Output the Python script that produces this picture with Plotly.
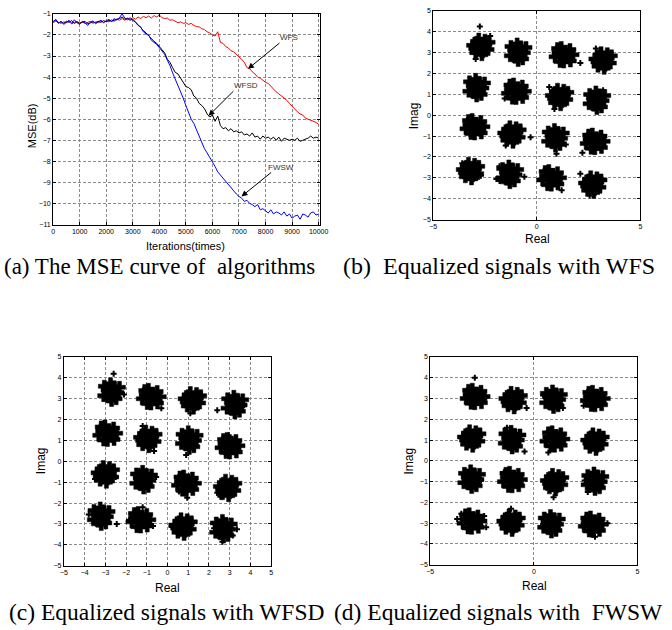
import plotly.graph_objects as go

W, H = 672, 630

# ---------------- data ----------------
iterations = list(range(0, 10001, 100))

mse_wfs = [
    -1.42, -1.35, -1.40, -1.45, -1.38, -1.42, -1.35, -1.48, -1.40, -1.36,
    -1.44, -1.38, -1.46, -1.40, -1.35, -1.45, -1.38, -1.42, -1.34, -1.40,
    -1.32, -1.38, -1.28, -1.35, -1.25, -1.30, -1.22, -1.30, -1.20, -1.26,
    -1.18, -1.25, -1.15, -1.22, -1.12, -1.18, -1.10, -1.20, -1.08, -1.15,
    -1.05, -1.18, -1.22, -1.20, -1.30, -1.28, -1.35, -1.42, -1.38, -1.45,
    -1.42, -1.50, -1.45, -1.55, -1.60, -1.62, -1.70, -1.75, -1.85, -1.90,
    -2.00, -2.05, -1.85, -2.35, -2.40, -2.55, -2.62, -2.75, -2.80, -2.95,
    -3.05, -3.15, -3.30, -3.55, -3.60, -3.75, -3.85, -4.00, -4.05, -4.15,
    -4.25, -4.30, -4.45, -4.55, -4.70, -4.80, -4.90, -5.00, -5.10, -5.25,
    -5.40, -5.50, -5.65, -5.75, -5.80, -5.95, -6.00, -6.05, -6.10, -6.15,
    -6.25]

mse_wfsd = [
    -1.35, -1.30, -1.42, -1.38, -1.45, -1.35, -1.40, -1.32, -1.45, -1.38,
    -1.45, -1.40, -1.35, -1.48, -1.42, -1.38, -1.42, -1.35, -1.40, -1.32,
    -1.38, -1.30, -1.35, -1.28, -1.25, -1.22, -1.15, -1.25, -1.22, -1.30,
    -1.25, -1.38, -1.50, -1.65, -1.80, -1.90, -2.05, -2.20, -2.30, -2.40,
    -2.55, -2.70, -2.85, -3.15, -3.30, -3.55, -3.78, -3.85, -4.05, -4.20,
    -4.45, -4.50, -4.60, -4.90, -5.00, -5.25, -5.35, -5.50, -5.75, -5.90,
    -5.80, -6.10, -5.85, -6.30, -6.45, -6.40, -6.55, -6.45, -6.60, -6.55,
    -6.65, -6.60, -6.75, -6.70, -6.80, -6.65, -6.85, -6.80, -6.95, -6.80,
    -6.90, -6.85, -6.95, -6.85, -7.00, -6.85, -7.05, -6.90, -6.95, -7.00,
    -6.95, -7.00, -6.90, -7.05, -7.00, -6.95, -6.90, -6.80, -6.90, -6.85,
    -6.90]

mse_fwsw = [
    -1.40, -1.25, -1.45, -1.35, -1.50, -1.38, -1.30, -1.45, -1.28, -1.42,
    -1.50, -1.35, -1.42, -1.55, -1.40, -1.33, -1.47, -1.38, -1.30, -1.42,
    -1.35, -1.25, -1.38, -1.22, -1.30, -1.18, -1.00, -1.20, -1.28, -1.18,
    -1.30, -1.40, -1.55, -1.62, -1.85, -1.95, -2.00, -2.25, -2.35, -2.45,
    -2.60, -2.75, -2.92, -3.20, -3.45, -3.80, -4.10, -4.35, -4.70, -5.00,
    -5.35, -5.65, -6.00, -6.20, -6.50, -6.75, -7.05, -7.40, -7.60, -7.85,
    -8.03, -8.25, -8.50, -8.65, -8.80, -8.95, -9.10, -9.30, -9.45, -9.55,
    -9.67, -9.75, -9.90, -9.85, -10.00, -10.05, -10.15, -10.05, -10.30, -10.25,
    -10.35, -10.45, -10.30, -10.50, -10.40, -10.45, -10.55, -10.40, -10.60, -10.50,
    -10.70, -10.60, -10.55, -10.75, -10.50, -10.55, -10.65, -10.45, -10.40, -10.55,
    -10.50]

mse_ticks_x = [0, 1000, 2000, 3000, 4000, 5000, 6000, 7000, 8000, 9000, 10000]
mse_ticklabels_x = ["0", "1000", "2000", "3000", "4000", "5000", "6000", "7000", "8000", "9000", "10000"]
mse_ticks_y = [-1, -2, -3, -4, -5, -6, -7, -8, -9, -10, -11]

# equalized constellation samples (real, imag): dense cores and sparse outliers
wfs_points = [
    (-2.70,3.30),(-2.45,3.40),(-2.90,3.50),(-2.60,3.05),(-3.00,3.20),(-2.35,3.15),(-2.80,3.65),(-2.50,3.60),(-2.95,3.00),(-2.65,2.90),(-2.30,3.50),(-3.10,3.35),
    (-0.85,3.05),(-1.12,3.12),(-0.60,3.00),(-0.78,3.28),(-1.05,2.78),(-0.68,2.70),(-1.25,3.30),(-1.28,2.85),(-0.90,2.62),(-0.52,3.25),(-0.95,3.42),(-0.75,2.88),
    (1.25,2.85),(1.50,2.77),(1.02,3.00),(1.38,3.07),(1.60,3.15),(1.12,2.57),(1.62,2.60),(0.88,2.80),(1.30,2.55),(1.18,3.25),(1.75,2.90),(1.00,3.20),
    (3.20,2.65),(3.45,2.75),(3.00,2.85),(3.30,2.40),(2.90,2.55),(3.55,2.50),(3.10,3.00),(3.40,2.95),(2.95,2.35),(3.25,2.25),(3.60,2.85),(2.80,2.70),
    (-2.85,1.35),(-3.12,1.42),(-2.60,1.30),(-2.78,1.58),(-3.05,1.08),(-2.68,1.00),(-3.25,1.60),(-3.28,1.15),(-2.90,0.92),(-2.52,1.55),(-2.95,1.72),(-2.75,1.18),
    (-1.05,1.10),(-0.80,1.02),(-1.28,1.25),(-0.92,1.32),(-0.70,1.40),(-1.18,0.82),(-0.68,0.85),(-1.42,1.05),(-1.00,0.80),(-1.12,1.50),(-0.55,1.15),(-1.30,1.45),
    (1.10,0.90),(1.35,1.00),(0.90,1.10),(1.20,0.65),(0.80,0.80),(1.45,0.75),(1.00,1.25),(1.30,1.20),(0.85,0.60),(1.15,0.50),(1.50,1.10),(0.70,0.95),
    (2.95,0.75),(2.68,0.82),(3.20,0.70),(3.02,0.98),(2.75,0.48),(3.12,0.40),(2.55,1.00),(2.52,0.55),(2.90,0.32),(3.28,0.95),(2.85,1.12),(3.05,0.58),
    (-3.05,-0.60),(-2.80,-0.68),(-3.28,-0.45),(-2.92,-0.38),(-2.70,-0.30),(-3.18,-0.88),(-2.68,-0.85),(-3.42,-0.65),(-3.00,-0.90),(-3.12,-0.20),(-2.55,-0.55),(-3.30,-0.25),
    (-1.20,-0.90),(-0.95,-0.80),(-1.40,-0.70),(-1.10,-1.15),(-1.50,-1.00),(-0.85,-1.05),(-1.30,-0.55),(-1.00,-0.60),(-1.45,-1.20),(-1.15,-1.30),(-0.80,-0.70),(-1.60,-0.85),
    (0.95,-1.05),(0.68,-0.98),(1.20,-1.10),(1.02,-0.82),(0.75,-1.32),(1.12,-1.40),(0.55,-0.80),(0.52,-1.25),(0.90,-1.48),(1.28,-0.85),(0.85,-0.68),(1.05,-1.22),
    (2.75,-1.30),(3.00,-1.38),(2.52,-1.15),(2.88,-1.08),(3.10,-1.00),(2.62,-1.58),(3.12,-1.55),(2.38,-1.35),(2.80,-1.60),(2.68,-0.90),(3.25,-1.25),(2.50,-0.95),
    (-3.20,-2.65),(-2.95,-2.55),(-3.40,-2.45),(-3.10,-2.90),(-3.50,-2.75),(-2.85,-2.80),(-3.30,-2.30),(-3.00,-2.35),(-3.45,-2.95),(-3.15,-3.05),(-2.80,-2.45),(-3.60,-2.60),
    (-1.25,-2.80),(-1.52,-2.73),(-1.00,-2.85),(-1.18,-2.57),(-1.45,-3.07),(-1.08,-3.15),(-1.65,-2.55),(-1.68,-3.00),(-1.30,-3.23),(-0.92,-2.60),(-1.35,-2.43),(-1.15,-2.97),
    (0.65,-3.05),(0.90,-3.13),(0.42,-2.90),(0.78,-2.83),(1.00,-2.75),(0.52,-3.33),(1.02,-3.30),(0.28,-3.10),(0.70,-3.35),(0.58,-2.65),(1.15,-3.00),(0.40,-2.70),
    (2.70,-3.30),(2.95,-3.20),(2.50,-3.10),(2.80,-3.55),(2.40,-3.40),(3.05,-3.45),(2.60,-2.95),(2.90,-3.00),(2.45,-3.60),(2.75,-3.70),(3.10,-3.10),(2.30,-3.25),
]
wfs_outliers = [
    (-2.75,4.25),(-2.95,2.70),(-2.25,3.80),(2.10,2.50),(2.85,3.20),(3.60,2.80),(-1.55,0.80),(0.60,1.35),(0.85,0.30),(3.20,1.20),(-2.50,-0.50),
    (-1.50,-1.45),(-0.30,-1.05),(0.95,-1.85),(1.40,-1.40),(-3.60,-2.30),(-2.70,-2.90),(-1.80,-3.15),(-1.80,-2.45),(-0.60,-2.95),(1.20,-3.60),
    (2.10,-2.80),(3.00,-3.50),(2.55,-3.85),(-1.95,-3.05),(2.20,-1.80),
]

wfsd_points = [
    (-2.65,3.35),(-2.92,3.42),(-2.40,3.30),(-2.58,3.58),(-2.85,3.08),(-2.48,3.00),(-3.05,3.60),(-3.08,3.15),(-2.70,2.92),(-2.32,3.55),(-2.75,3.72),(-2.55,3.18),
    (-0.85,3.05),(-0.60,2.97),(-1.08,3.20),(-0.72,3.27),(-0.50,3.35),(-0.98,2.77),(-0.48,2.80),(-1.22,3.00),(-0.80,2.75),(-0.92,3.45),(-0.35,3.10),(-1.10,3.40),
    (1.20,2.95),(1.45,3.05),(1.00,3.15),(1.30,2.70),(0.90,2.85),(1.55,2.80),(1.10,3.30),(1.40,3.25),(0.95,2.65),(1.25,2.55),(1.60,3.15),(0.80,3.00),
    (3.30,2.75),(3.03,2.82),(3.55,2.70),(3.37,2.98),(3.10,2.48),(3.47,2.40),(2.90,3.00),(2.87,2.55),(3.25,2.32),(3.63,2.95),(3.20,3.12),(3.40,2.58),
    (-2.95,1.30),(-2.70,1.22),(-3.18,1.45),(-2.82,1.52),(-2.60,1.60),(-3.08,1.02),(-2.58,1.05),(-3.32,1.25),(-2.90,1.00),(-3.02,1.70),(-2.45,1.35),(-3.20,1.65),
    (-0.95,1.10),(-0.70,1.20),(-1.15,1.30),(-0.85,0.85),(-1.25,1.00),(-0.60,0.95),(-1.05,1.45),(-0.75,1.40),(-1.20,0.80),(-0.90,0.70),(-0.55,1.30),(-1.35,1.15),
    (1.10,1.05),(0.83,1.12),(1.35,1.00),(1.17,1.28),(0.90,0.78),(1.27,0.70),(0.70,1.30),(0.67,0.85),(1.05,0.62),(1.43,1.25),(1.00,1.42),(1.20,0.88),
    (2.95,0.70),(3.20,0.62),(2.72,0.85),(3.08,0.92),(3.30,1.00),(2.82,0.42),(3.32,0.45),(2.58,0.65),(3.00,0.40),(2.88,1.10),(3.45,0.75),(2.70,1.05),
    (-3.00,-0.60),(-2.75,-0.50),(-3.20,-0.40),(-2.90,-0.85),(-3.30,-0.70),(-2.65,-0.75),(-3.10,-0.25),(-2.80,-0.30),(-3.25,-0.90),(-2.95,-1.00),(-2.60,-0.40),(-3.40,-0.55),
    (-1.10,-0.85),(-1.37,-0.78),(-0.85,-0.90),(-1.03,-0.62),(-1.30,-1.12),(-0.93,-1.20),(-1.50,-0.60),(-1.53,-1.05),(-1.15,-1.28),(-0.77,-0.65),(-1.20,-0.48),(-1.00,-1.02),
    (0.85,-1.10),(1.10,-1.18),(0.62,-0.95),(0.98,-0.88),(1.20,-0.80),(0.72,-1.38),(1.22,-1.35),(0.48,-1.15),(0.90,-1.40),(0.78,-0.70),(1.35,-1.05),(0.60,-0.75),
    (2.90,-1.25),(3.15,-1.15),(2.70,-1.05),(3.00,-1.50),(2.60,-1.35),(3.25,-1.40),(2.80,-0.90),(3.10,-0.95),(2.65,-1.55),(2.95,-1.65),(3.30,-1.05),(2.50,-1.20),
    (-3.15,-2.60),(-3.42,-2.53),(-2.90,-2.65),(-3.08,-2.37),(-3.35,-2.87),(-2.98,-2.95),(-3.55,-2.35),(-3.58,-2.80),(-3.20,-3.03),(-2.82,-2.40),(-3.25,-2.23),(-3.05,-2.77),
    (-1.35,-2.85),(-1.10,-2.93),(-1.58,-2.70),(-1.22,-2.63),(-1.00,-2.55),(-1.48,-3.13),(-0.98,-3.10),(-1.72,-2.90),(-1.30,-3.15),(-1.42,-2.45),(-0.85,-2.80),(-1.60,-2.50),
    (0.75,-3.10),(1.00,-3.00),(0.55,-2.90),(0.85,-3.35),(0.45,-3.20),(1.10,-3.25),(0.65,-2.75),(0.95,-2.80),(0.50,-3.40),(0.80,-3.50),(1.15,-2.90),(0.35,-3.05),
    (2.75,-3.20),(2.48,-3.13),(3.00,-3.25),(2.82,-2.97),(2.55,-3.47),(2.92,-3.55),(2.35,-2.95),(2.32,-3.40),(2.70,-3.63),(3.08,-3.00),(2.65,-2.83),(2.85,-3.37),
]
wfsd_outliers = [
    (-2.60,4.20),(-2.10,3.20),(-0.30,2.55),(1.10,2.30),(2.40,2.45),(3.70,2.70),(-1.20,1.70),(-0.65,0.50),(0.90,0.30),(2.95,1.25),
    (-3.50,-0.85),(-2.50,-0.75),(-1.35,-0.45),(-0.55,-0.75),(0.55,-1.45),(0.95,-1.75),(2.55,-1.70),(2.40,-1.50),
    (-3.80,-2.55),(-2.45,-3.00),(-1.20,-2.20),(-1.50,-2.40),(-1.85,-2.80),(-0.70,-3.10),(0.20,-3.15),(2.25,-3.20),(3.35,-3.25),(3.15,-3.55),(2.65,-3.85),
]

fwsw_points = [
    (-2.90,3.05),(-2.65,2.97),(-3.13,3.20),(-2.77,3.27),(-2.55,3.35),(-3.03,2.77),(-2.53,2.80),(-3.27,3.00),(-2.85,2.75),(-2.97,3.45),(-2.40,3.10),(-3.15,3.40),
    (-1.00,2.95),(-0.75,3.05),(-1.20,3.15),(-0.90,2.70),(-1.30,2.85),(-0.65,2.80),(-1.10,3.30),(-0.80,3.25),(-1.25,2.65),(-0.95,2.55),(-0.60,3.15),(-1.40,3.00),
    (1.00,3.00),(0.73,3.07),(1.25,2.95),(1.07,3.23),(0.80,2.73),(1.17,2.65),(0.60,3.25),(0.57,2.80),(0.95,2.57),(1.33,3.20),(0.90,3.37),(1.10,2.83),
    (2.90,2.95),(3.15,2.87),(2.67,3.10),(3.03,3.17),(3.25,3.25),(2.77,2.67),(3.27,2.70),(2.53,2.90),(2.95,2.65),(2.83,3.35),(3.40,3.00),(2.65,3.30),
    (-3.00,1.10),(-2.75,1.20),(-3.20,1.30),(-2.90,0.85),(-3.30,1.00),(-2.65,0.95),(-3.10,1.45),(-2.80,1.40),(-3.25,0.80),(-2.95,0.70),(-2.60,1.30),(-3.40,1.15),
    (-1.00,1.05),(-1.27,1.12),(-0.75,1.00),(-0.93,1.28),(-1.20,0.78),(-0.83,0.70),(-1.40,1.30),(-1.43,0.85),(-1.05,0.62),(-0.67,1.25),(-1.10,1.42),(-0.90,0.88),
    (0.95,1.00),(1.20,0.92),(0.72,1.15),(1.08,1.22),(1.30,1.30),(0.82,0.72),(1.32,0.75),(0.58,0.95),(1.00,0.70),(0.88,1.40),(1.45,1.05),(0.70,1.35),
    (2.95,0.95),(3.20,1.05),(2.75,1.15),(3.05,0.70),(2.65,0.85),(3.30,0.80),(2.85,1.30),(3.15,1.25),(2.70,0.65),(3.00,0.55),(3.35,1.15),(2.55,1.00),
    (-2.95,-0.85),(-3.22,-0.78),(-2.70,-0.90),(-2.88,-0.62),(-3.15,-1.12),(-2.78,-1.20),(-3.35,-0.60),(-3.38,-1.05),(-3.00,-1.28),(-2.62,-0.65),(-3.05,-0.48),(-2.85,-1.02),
    (-1.10,-0.95),(-0.85,-1.03),(-1.33,-0.80),(-0.97,-0.73),(-0.75,-0.65),(-1.23,-1.23),(-0.73,-1.20),(-1.47,-1.00),(-1.05,-1.25),(-1.17,-0.55),(-0.60,-0.90),(-1.35,-0.60),
    (1.00,-1.00),(1.25,-0.90),(0.80,-0.80),(1.10,-1.25),(0.70,-1.10),(1.35,-1.15),(0.90,-0.65),(1.20,-0.70),(0.75,-1.30),(1.05,-1.40),(1.40,-0.80),(0.60,-0.95),
    (3.00,-0.95),(2.73,-0.88),(3.25,-1.00),(3.07,-0.72),(2.80,-1.22),(3.17,-1.30),(2.60,-0.70),(2.57,-1.15),(2.95,-1.38),(3.33,-0.75),(2.90,-0.58),(3.10,-1.12),
    (-3.05,-2.95),(-2.80,-3.03),(-3.28,-2.80),(-2.92,-2.73),(-2.70,-2.65),(-3.18,-3.23),(-2.68,-3.20),(-3.42,-3.00),(-3.00,-3.25),(-3.12,-2.55),(-2.55,-2.90),(-3.30,-2.60),
    (-1.10,-2.95),(-0.85,-2.85),(-1.30,-2.75),(-1.00,-3.20),(-1.40,-3.05),(-0.75,-3.10),(-1.20,-2.60),(-0.90,-2.65),(-1.35,-3.25),(-1.05,-3.35),(-0.70,-2.75),(-1.50,-2.90),
    (0.90,-3.00),(0.63,-2.93),(1.15,-3.05),(0.97,-2.77),(0.70,-3.27),(1.07,-3.35),(0.50,-2.75),(0.47,-3.20),(0.85,-3.43),(1.23,-2.80),(0.80,-2.63),(1.00,-3.17),
    (2.80,-3.10),(3.05,-3.18),(2.57,-2.95),(2.93,-2.88),(3.15,-2.80),(2.67,-3.38),(3.17,-3.35),(2.43,-3.15),(2.85,-3.40),(2.73,-2.70),(3.30,-3.05),(2.55,-2.75),
]
fwsw_outliers = [
    (-2.85,4.00),(-2.30,3.05),(-0.35,2.55),(0.45,3.15),(1.40,2.55),(2.40,2.65),(-0.45,0.45),(-1.30,1.60),(0.70,0.40),(2.80,1.40),
    (-3.40,-1.10),(-2.55,-0.95),(-1.45,-0.55),(-0.60,-0.90),(0.95,-1.75),(0.60,-1.30),(2.45,-0.95),(2.60,-1.50),
    (-3.70,-2.80),(-3.50,-2.55),(-2.40,-2.65),(-2.30,-3.20),(-1.60,-2.95),(-1.10,-2.30),(0.35,-3.15),(3.55,-3.00),(2.95,-3.65),(2.35,-3.15),
]

sparse_ticks = [-5, 0, 5]
full_ticks = [-5, -4, -3, -2, -1, 0, 1, 2, 3, 4, 5]

# ---------------- figure ----------------
def px(xp):
    return xp / W

def py(yp):
    return 1 - yp / H

fig = go.Figure()

fig.add_trace(go.Scatter(x=iterations, y=mse_wfs, mode="lines", name="WFS",
                         line=dict(color="#ff0000", width=1), xaxis="x", yaxis="y"))
fig.add_trace(go.Scatter(x=iterations, y=mse_wfsd, mode="lines", name="WFSD",
                         line=dict(color="#000000", width=1), xaxis="x", yaxis="y"))
fig.add_trace(go.Scatter(x=iterations, y=mse_fwsw, mode="lines", name="FWSW",
                         line=dict(color="#0000ff", width=1), xaxis="x", yaxis="y"))

core_marker = dict(symbol="cross", size=10, color="black", line=dict(width=0.5, color="black"))
out_marker = dict(symbol="cross", size=5, color="black", line=dict(width=0))
for pts, outs, xa, ya in [(wfs_points, wfs_outliers, "x2", "y2"),
                          (wfsd_points, wfsd_outliers, "x3", "y3"),
                          (fwsw_points, fwsw_outliers, "x4", "y4")]:
    fig.add_trace(go.Scatter(x=[p[0] for p in outs], y=[p[1] for p in outs], mode="markers",
                             marker=out_marker, xaxis=xa, yaxis=ya, showlegend=False))
    fig.add_trace(go.Scatter(x=[p[0] for p in pts], y=[p[1] for p in pts], mode="markers",
                             marker=core_marker, xaxis=xa, yaxis=ya, showlegend=False))

tickfont = dict(family="Liberation Sans, Arial, sans-serif", size=7, color="black")
common = dict(showline=True, linecolor="black", linewidth=1, mirror="ticks",
              ticks="inside", ticklen=3, tickcolor="black", tickwidth=1,
              showgrid=True, gridcolor="#8a8a8a", gridwidth=1, griddash="3px,2px",
              zeroline=False, tickfont=tickfont, fixedrange=True)

layout = dict(
    width=W, height=H, autosize=False,
    margin=dict(l=0, r=0, t=0, b=0),
    paper_bgcolor="white", plot_bgcolor="white",
    showlegend=False,
    xaxis=dict(domain=[px(50), px(322)], range=[0, 10060], tickvals=mse_ticks_x,
               ticktext=mse_ticklabels_x, anchor="y", **common),
    yaxis=dict(domain=[py(223), py(10)], range=[-11, -1], tickvals=mse_ticks_y, anchor="x", **common),
    xaxis2=dict(domain=[px(437), px(648)], range=[-5, 5], tickvals=sparse_ticks, anchor="y2", **common),
    yaxis2=dict(domain=[py(218), py(7)], range=[-5, 5], tickvals=full_ticks, anchor="x2", **common),
    xaxis3=dict(domain=[px(61), px(272)], range=[-5, 5], tickvals=full_ticks, anchor="y3", **common),
    yaxis3=dict(domain=[py(568), py(357)], range=[-5, 5], tickvals=full_ticks, anchor="x3", **common),
    xaxis4=dict(domain=[px(434), px(645)], range=[-5, 5], tickvals=sparse_ticks, anchor="y4", **common),
    yaxis4=dict(domain=[py(567), py(357)], range=[-5, 5], tickvals=full_ticks, anchor="x4", **common),
)
fig.update_layout(**layout)

sans = "Liberation Sans, Arial, sans-serif"
serif = "Liberation Serif, Times New Roman, serif"
ann = []

def label(text, xp, yp, size, angle=0, family=sans):
    ann.append(dict(text=text, x=px(xp), y=py(yp), xref="paper", yref="paper",
                    showarrow=False, textangle=angle, xanchor="center", yanchor="middle",
                    font=dict(family=family, size=size, color="black")))

label("MSE(dB)", 28, 123, 11, -90)
label("Iterations(times)", 185, 245, 11)
label("Imag", 417, 113, 12, -90)
label("Real", 543, 238, 12)
label("Imag", 38, 462, 12, -90)
label("Real", 166, 591, 12)
label("Imag", 412, 462, 12, -90)
label("Real", 540, 589, 12)

NB = "\u00a0"
label("(a) The MSE curve of" + NB + " algorithms", 158, 265, 23, family=serif)
label("(b)" + NB + " Equalized signals with WFS", 504, 265, 24, family=serif)
label("(c) Equalized signals with WFSD", 165, 615, 23.5, family=serif)
label("(d) Equalized signals with" + NB + " FWSW", 503, 615, 23.5, family=serif)

# curve labels with arrows
for text, tx, ty, tailx, taily, tipx, tipy in [
    ("WFS", 8886, -2.14, 8579, -2.33, 7339, -3.61),
    ("WFSD", 7253, -4.39, 6845, -4.60, 5854, -5.84),
    ("FWSW", 8579, -8.27, 8268, -8.47, 7093, -9.67),
]:
    ann.append(dict(text=text, x=tx, y=ty, xref="x", yref="y", showarrow=False,
                    font=dict(family=sans, size=8, color="#333333")))
    ann.append(dict(text="", x=tipx, y=tipy, ax=tailx, ay=taily, xref="x", yref="y",
                    axref="x", ayref="y", showarrow=True, arrowhead=2, arrowsize=1.2,
                    arrowwidth=1, arrowcolor="black"))

fig.update_layout(annotations=ann)

# the page's default 8px body margin would shift the whole figure; remove it
fig.write_html("out.html", config={"displayModeBar": False},
               post_script="document.body.style.margin='0';")
